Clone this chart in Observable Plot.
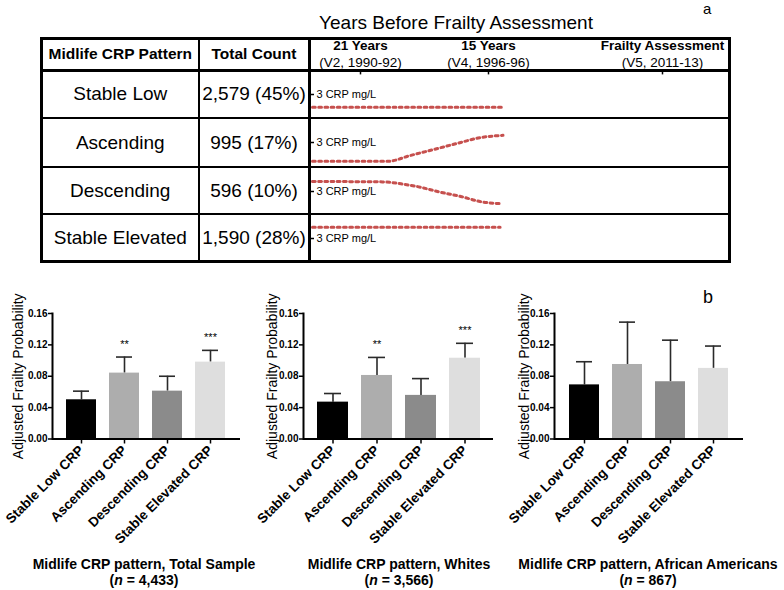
<!DOCTYPE html>
<html><head><meta charset="utf-8">
<script src="https://cdn.jsdelivr.net/npm/d3@7"></script>
<script src="https://cdn.jsdelivr.net/npm/@observablehq/plot@0.6"></script>
<style>
body{margin:0;background:#fff;}
#fig{position:relative;width:784px;height:590px;overflow:hidden;font-family:"Liberation Sans",Arial,Helvetica,sans-serif;color:#000;background:#fff;}
.line{position:absolute;background:#000;}
.cell{position:absolute;display:flex;align-items:center;justify-content:center;white-space:nowrap;}
.lbl{position:absolute;white-space:nowrap;}
.pl{position:absolute;}
.pl svg{overflow:visible;}
</style></head><body><div id="fig"></div>
<script>
// ---------- data: table (panel a) ----------
const crpPatterns = ["Stable Low", "Ascending", "Descending", "Stable Elevated"];
const totalCounts = ["2,579 (45%)", "995 (17%)", "596 (10%)", "1,590 (28%)"];
const visitYears = [21, 15, 0];
const visitNames = ["21 Years", "15 Years", "Frailty Assessment"];
const visitDetails = ["(V2, 1990-92)", "(V4, 1996-96)", "(V5, 2011-13)"];
const crpRefLevel = 3;
// schematic trajectories: years before frailty assessment, CRP mg/L
const trajStableLow = [{t: 23.25, crp: 1.4}, {t: 13.8, crp: 1.4}];
const trajAscending = [{t: 23.25, crp: 0.65}, {t: 19.7, crp: 0.65}, {t: 18.7, crp: 1.35}, {t: 17.6, crp: 2.1}, {t: 16.45, crp: 2.9}, {t: 15.4, crp: 3.6}, {t: 13.75, crp: 3.9}];
const trajDescending = [{t: 23.25, crp: 4.25}, {t: 19.9, crp: 4.2}, {t: 19.1, crp: 3.96}, {t: 18.2, crp: 3.54}, {t: 17.25, crp: 2.91}, {t: 16.3, crp: 2.38}, {t: 15.4, crp: 1.75}, {t: 13.8, crp: 1.46}];
const trajStableElevated = [{t: 23.25, crp: 4.4}, {t: 14.0, crp: 4.4}];
const trajectories = [trajStableLow, trajAscending, trajDescending, trajStableElevated];

// ---------- data: bar panels (panel b) ----------
const barCategories = ["Stable Low CRP", "Ascending CRP", "Descending CRP", "Stable Elevated CRP"];
const totalProb = [0.050, 0.084, 0.061, 0.098];
const totalUpper = [0.061, 0.1045, 0.080, 0.113];
const totalSig = ["", "**", "", "***"];
const whiteProb = [0.047, 0.081, 0.0556, 0.103];
const whiteUpper = [0.058, 0.104, 0.077, 0.122];
const whiteSig = ["", "**", "", "***"];
const aaProb = [0.069, 0.095, 0.073, 0.090];
const aaUpper = [0.0985, 0.149, 0.126, 0.1185];
const aaSig = ["", "", "", ""];
const yTicks = [0, 0.04, 0.08, 0.12, 0.16];
const panelTitles = ["Midlife CRP pattern, Total Sample", "Midlife CRP pattern, Whites", "Midlife CRP pattern, African Americans"];
const panelNs = ["4,433", "3,566", "867"];
const barColors = ["#000000", "#adadad", "#8b8b8b", "#dedede"];

// ---------- layout ----------
const fig = document.getElementById("fig");
const FONT = '"Liberation Sans", Arial, Helvetica, sans-serif';
function div(cls, css, html) {
  const d = document.createElement("div");
  d.className = cls;
  Object.assign(d.style, css);
  if (html !== undefined) d.innerHTML = html;
  fig.appendChild(d);
  return d;
}
function place(node, left, top) {
  const d = div("pl", {left: left + "px", top: top + "px"});
  d.appendChild(node);
}

// table geometry
const T = {left: 40, top: 37, right: 731, bottom: 263, col1: 198.5, col2: 309.5, head: 70};
const rowEdges = [70, 118, 167, 214, 262];
const trajLeft = 305, trajWidth = 426;
const visitPx = [360, 488, 662];

// title + letters
div("lbl", {left: "0px", width: "912px", top: "12px", textAlign: "center", fontSize: "19px"}, "Years Before Frailty Assessment");
div("lbl", {left: "703px", top: "0px", fontSize: "15px"}, "a");
div("lbl", {left: "703px", top: "287px", fontSize: "18px"}, "b");

// table lines
div("line", {left: T.left + "px", top: T.top + "px", width: (T.right - T.left) + "px", height: "3px"});
div("line", {left: T.left + "px", top: (T.bottom - 3) + "px", width: (T.right - T.left) + "px", height: "3px"});
div("line", {left: T.left + "px", top: T.top + "px", width: "3px", height: (T.bottom - T.top) + "px"});
div("line", {left: (T.right - 3) + "px", top: T.top + "px", width: "3px", height: (T.bottom - T.top) + "px"});
div("line", {left: (T.col1 - 1) + "px", top: T.top + "px", width: "2px", height: (T.bottom - T.top) + "px"});
div("line", {left: (T.col2 - 1.5) + "px", top: T.top + "px", width: "3px", height: (T.bottom - T.top) + "px"});
div("line", {left: T.left + "px", top: (T.head - 1.5) + "px", width: (T.right - T.left) + "px", height: "3px"});
for (let i = 1; i < rowEdges.length - 1; i++) {
  div("line", {left: T.left + "px", top: (rowEdges[i] - 1) + "px", width: (T.right - T.left) + "px", height: "2px"});
}

// header cells
div("cell", {left: (T.left + 3) + "px", top: T.top + "px", width: (T.col1 - T.left - 4) + "px", height: (T.head - T.top) + "px", fontSize: "15.5px", fontWeight: "bold"}, "Midlife CRP Pattern");
div("cell", {left: T.col1 + "px", top: T.top + "px", width: (T.col2 - T.col1) + "px", height: (T.head - T.top) + "px", fontSize: "15.5px", fontWeight: "bold"}, "Total Count");
crpPatterns.forEach((p, i) => {
  const top = rowEdges[i], h = rowEdges[i + 1] - rowEdges[i];
  div("cell", {left: (T.left + 3) + "px", top: top + "px", width: (T.col1 - T.left - 4) + "px", height: h + "px", fontSize: "19px"}, p);
  div("cell", {left: T.col1 + "px", top: top + "px", width: (T.col2 - T.col1) + "px", height: h + "px", fontSize: "19px"}, totalCounts[i]);
});

// header visit labels via Plot (piecewise linear timeline scale)
const xTraj = {type: "linear", domain: visitYears, range: visitPx.map(p => p - trajLeft)};
const visits = visitYears.map((t, i) => ({t, name: visitNames[i], detail: visitDetails[i]}));
place(Plot.plot({
  width: trajWidth, height: 31, margin: 0,
  style: {fontFamily: FONT, background: "transparent"},
  x: {...xTraj, axis: null}, y: {axis: null},
  marks: [
    Plot.text(visits, {x: "t", text: "name", frameAnchor: "top", lineAnchor: "middle", dy: 6.5, fontSize: 13.5, fontWeight: "bold", fill: "#000"}),
    Plot.text(visits, {x: "t", text: "detail", frameAnchor: "top", lineAnchor: "middle", dy: 23, fontSize: 13.5, fill: "#000"})
  ]
}), trajLeft, 39);

// trajectory rows
const crpDomain = [0, 6];
trajectories.forEach((traj, i) => {
  const top = rowEdges[i];
  const marks = [
    Plot.axisY({anchor: "left", ticks: [crpRefLevel], tickSize: 4, tickPadding: -6, textAnchor: "start", tickFormat: d => `${d} CRP mg/L`, fontSize: 11, label: null, strokeWidth: 1.5}),
    Plot.line(traj, {x: "t", y: "crp", stroke: "#c6504e", strokeWidth: 3, strokeDasharray: "2.8,3.4", curve: "monotone-x"})
  ];
  if (i === 0) {
    marks.push(Plot.ruleX(visitYears, {x: d => d, y1: crpDomain[1], y2: crpDomain[1] - 0.55, stroke: "#000", strokeWidth: 1.5}));
  }
  place(Plot.plot({
    width: trajWidth, height: 48,
    marginLeft: 9, marginRight: 0, marginTop: 0, marginBottom: 0,
    style: {fontFamily: FONT, background: "transparent"},
    x: {...xTraj, axis: null},
    y: {domain: crpDomain, axis: null},
    marks
  }), trajLeft, top);
});

// ---------- bar panels ----------
function panel(probs, uppers, sigs, axisEnd, labelDx) {
  const W = 260;
  const data = barCategories.map((c, i) => ({c, v: probs[i], e: uppers[i], s: sigs[i]}));
  return Plot.plot({
    width: W, height: 250,
    marginLeft: 52, marginRight: W - axisEnd, marginTop: 13, marginBottom: 111.5,
    style: {fontFamily: FONT, background: "transparent", overflow: "visible"},
    x: {domain: barCategories, padding: 0.3, axis: null},
    y: {domain: [0, 0.16], axis: null},
    color: {domain: barCategories, range: barColors},
    marks: [
      Plot.ruleX(data, {x: "c", y1: "v", y2: "e", stroke: "#2a2a2a", strokeWidth: 1.6}),
      Plot.tickY(data, {x: "c", y: "e", stroke: "#2a2a2a", strokeWidth: 1.6, insetLeft: 7, insetRight: 7}),
      Plot.barY(data, {x: "c", y: "v", fill: "c"}),
      Plot.text(data.filter(d => d.s), {x: "c", y: "e", text: "s", dy: -13, fontSize: 11, fill: "#000"}),
      Plot.ruleY([0], {stroke: "#000", strokeWidth: 2}),
      Plot.frame({anchor: "left", stroke: "#000", strokeWidth: 2}),
      Plot.axisY({ticks: yTicks, tickFormat: d3.format(".2f"), tickSize: 4, tickPadding: 1, fontSize: 10, fontWeight: "bold", label: null, strokeWidth: 1.5}),
      Plot.axisX({tickRotate: -45, tickSize: 5, tickPadding: 4, fontSize: 13.5, fontWeight: "bold", label: null, strokeWidth: 1.5}),
      Plot.text(["Adjusted Frailty Probability"], {frameAnchor: "left", textAnchor: "middle", rotate: -90, dx: labelDx, fontSize: 14, fill: "#000"})
    ]
  });
}
place(panel(totalProb, totalUpper, totalSig, 240, -34), 0, 300);
place(panel(whiteProb, whiteUpper, whiteSig, 493 - 251, -31), 251, 300);
place(panel(aaProb, aaUpper, aaSig, 743 - 502, -30), 502, 300);

// panel titles
const titleCenters = [144, 399, 648];
panelTitles.forEach((t, i) => {
  div("lbl", {left: (titleCenters[i] - 200) + "px", width: "400px", top: "556px", textAlign: "center", fontSize: "14px", fontWeight: "bold", lineHeight: "16px"},
    `${t}<br>(<i>n</i> = ${panelNs[i]})`);
});
</script></body></html>
